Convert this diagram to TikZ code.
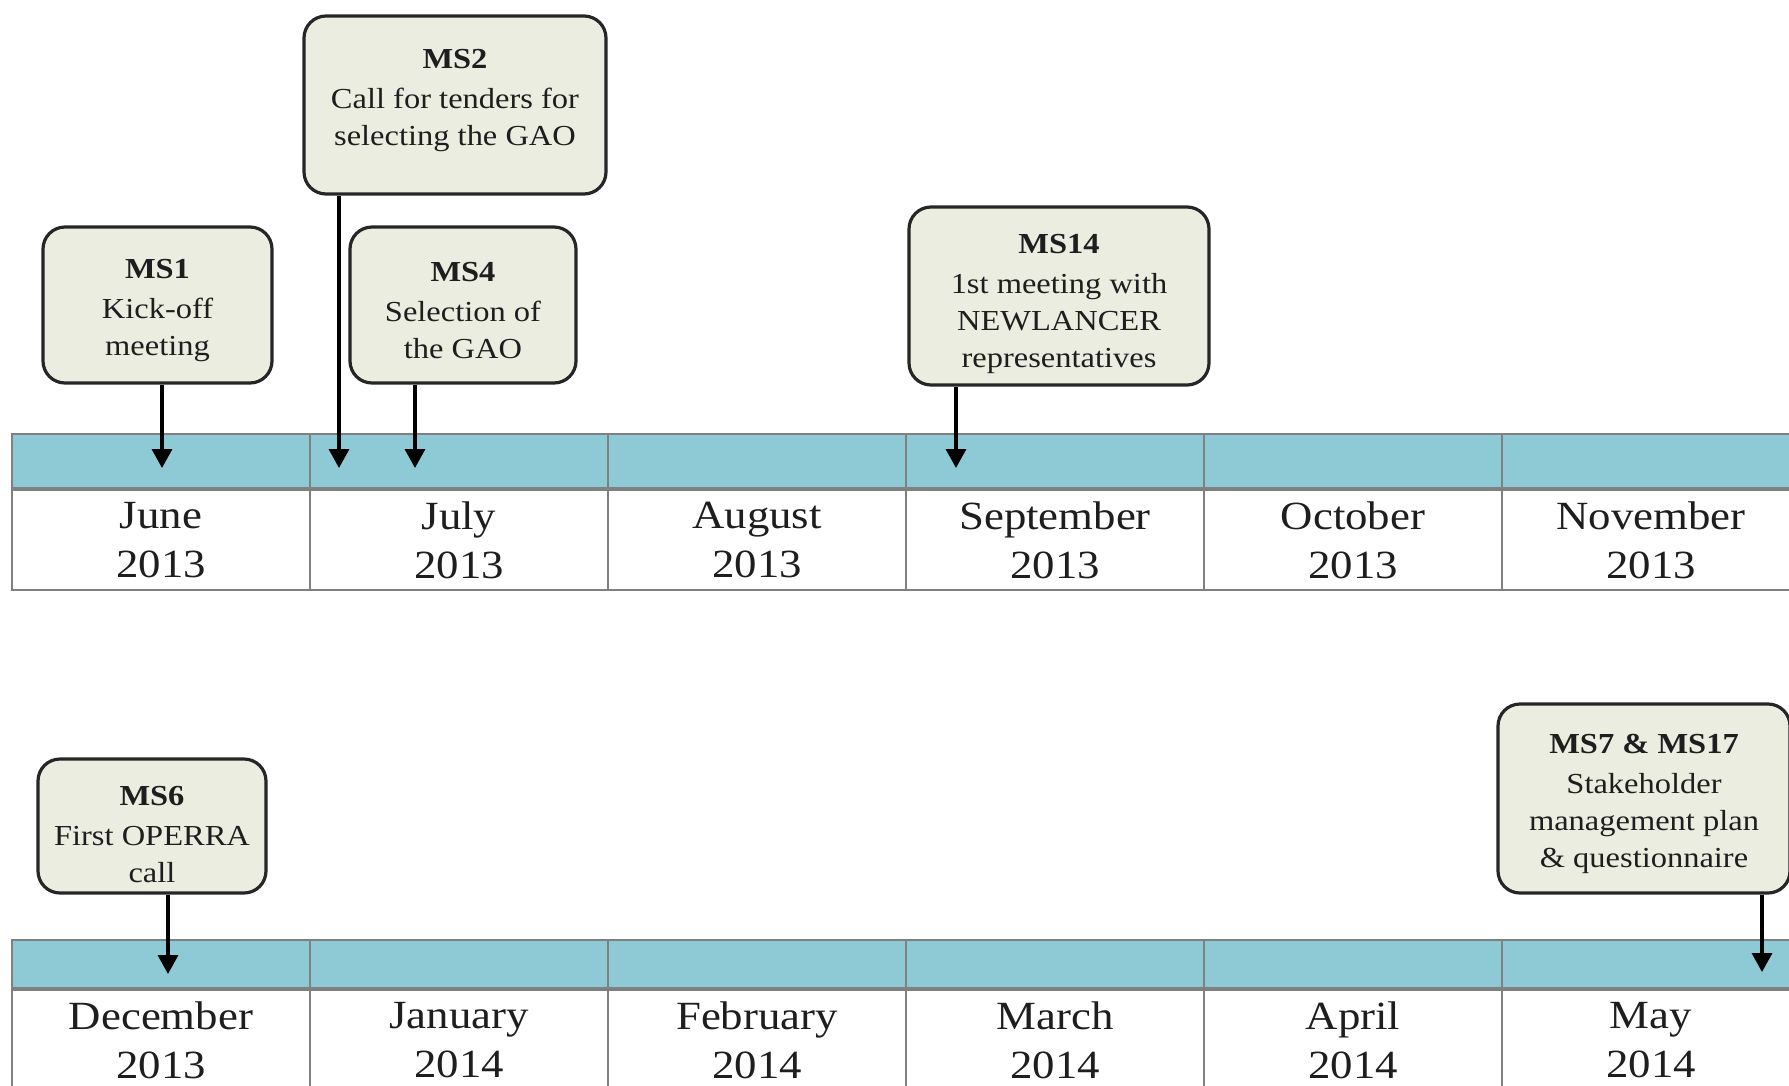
\documentclass[tikz,border=0pt]{standalone}
\usepackage{fontspec}
\setmainfont[FakeStretch=1.12]{Liberation Serif}
\usetikzlibrary{arrows.meta}
\definecolor{barblue}{HTML}{8DCAD6}
\definecolor{boxfill}{HTML}{EAEDE0}
\definecolor{gridgray}{HTML}{808080}
\definecolor{txt}{HTML}{1E1E1E}
\newcommand{\msttl}[1]{\rule{0pt}{30pt}\textbf{#1}}
\begin{document}
\begin{tikzpicture}[x=1pt,y=-1pt,
  msbox/.style={draw=black!85, line width=3.2pt, fill=boxfill, rounded corners=22pt,
    align=center, inner sep=0pt, font=\fontsize{29}{37}\selectfont, text=txt},
  bar/.style={fill=barblue, draw=gridgray, line width=2pt, minimum width=298pt, inner sep=0pt},
  cell/.style={fill=white, draw=gridgray, line width=2pt, minimum width=298pt, minimum height=100pt,
    inner sep=0pt, align=center, font=\fontsize{40}{49}\selectfont, text=txt},
  msarrow/.style={draw=black, line width=3.4pt, -{Triangle[width=20pt,length=19pt]}}
]
\useasboundingbox (0,0) rectangle (1789,1085);
\clip (0,0) rectangle (1789,1085);

% top timeline
\foreach \i in {0,...,5}{
  \pgfmathsetmacro{\cx}{161+298*\i}
  \node[bar, minimum height=54pt] (tb\i) at (\cx,461) {};
}
\node[cell] (tc0) at (161,540) {June\\2013};
\node[cell] (tc1) at (459,540) {July\\2013};
\node[cell] (tc2) at (757,540) {August\\2013};
\node[cell] (tc3) at (1055,540) {September\\2013};
\node[cell] (tc4) at (1353,540) {October\\2013};
\node[cell] (tc5) at (1651,540) {November\\2013};

% bottom timeline
\foreach \i in {0,...,5}{
  \pgfmathsetmacro{\cx}{161+298*\i}
  \node[bar, minimum height=48pt] (bb\i) at (\cx,964) {};
}
\node[cell] (bc0) at (161,1040) {December\\2013};
\node[cell] (bc1) at (459,1040) {January\\2014};
\node[cell] (bc2) at (757,1040) {February\\2014};
\node[cell] (bc3) at (1055,1040) {March\\2014};
\node[cell] (bc4) at (1353,1040) {April\\2014};
\node[cell] (bc5) at (1651,1040) {May\\2014};

% milestone boxes
\node[msbox, minimum width=229pt, minimum height=156pt] (ms1) at (157.5,305)
  {\msttl{MS1}\\[3pt]Kick-off\\meeting};
\node[msbox, minimum width=302pt, minimum height=178pt] (ms2) at (455,105)
  {\msttl{MS2}\\[3pt]Call for tenders for\\selecting the GAO\\[-22pt]\strut};
\node[msbox, minimum width=226pt, minimum height=156pt] (ms4) at (463,305)
  {\msttl{MS4}\\[3pt]Selection of\\the GAO};
\node[msbox, minimum width=300pt, minimum height=178pt] (ms14) at (1059,296)
  {\rule{0pt}{36pt}\textbf{MS14}\\[3pt]1st meeting with\\NEWLANCER\\representatives};
\node[msbox, minimum width=228pt, minimum height=134pt] (ms6) at (152,826)
  {\rule{0pt}{36pt}\textbf{MS6}\\[3pt]First OPERRA\\call};
\node[msbox, minimum width=292pt, minimum height=189pt] (ms7) at (1644,798.5)
  {\msttl{MS7 \& MS17}\\[3pt]Stakeholder\\management plan\\\& questionnaire};

% arrow targets
\coordinate (t1) at (162,468);
\coordinate (t2) at (339,468);
\coordinate (t4) at (415,468);
\coordinate (t14) at (956,468);
\coordinate (t6) at (168,974);
\coordinate (t7) at (1762,972);

\draw[msarrow] (ms1.south -| t1) -- (t1);
\draw[msarrow] (ms2.south -| t2) -- (t2);
\draw[msarrow] (ms4.south -| t4) -- (t4);
\draw[msarrow] (ms14.south -| t14) -- (t14);
\draw[msarrow] (ms6.south -| t6) -- (t6);
\draw[msarrow] (ms7.south -| t7) -- (t7);
\end{tikzpicture}
\end{document}
